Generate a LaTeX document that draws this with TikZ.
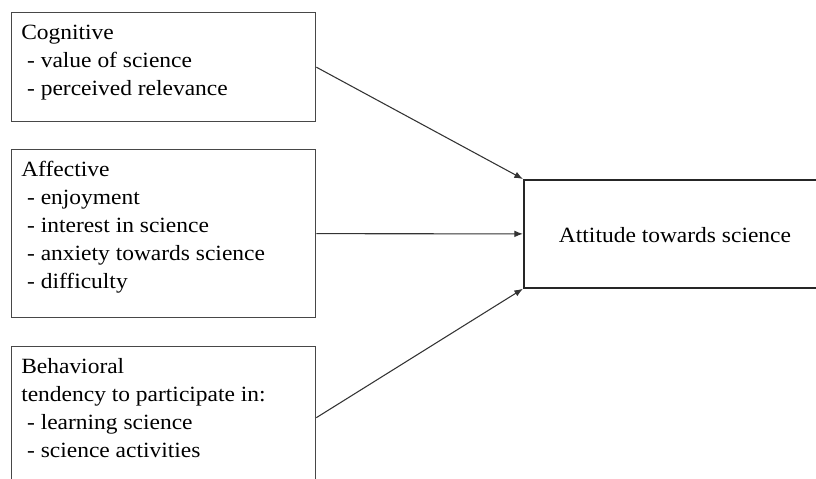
\documentclass[tikz,border=0pt]{standalone}
\usepackage{fontspec}
\setmainfont{Liberation Serif}[FakeStretch=1.08]
\usetikzlibrary{arrows.meta}
\begin{document}
\begin{tikzpicture}[x=0.75pt,y=-0.75pt,
  box/.style={draw=black!72,line width=1pt,rectangle,inner sep=0pt,anchor=north west},
  mainbox/.style={draw=black!85,line width=1.3pt,rectangle,inner sep=0pt,anchor=north west},
  txt/.style={inner sep=0pt,align=left,anchor=base west,font=\fontsize{16.3pt}{21pt}\selectfont},
  arr/.style={draw=black!80,line width=0.8pt,-{Latex[length=6.5pt,width=5pt]}}]
\useasboundingbox (0,0) rectangle (816,478);
\clip (0,0) rectangle (816,478);
\node[box,minimum width=304*0.75pt,minimum height=109*0.75pt] (cog) at (11,12) {};
\node[box,minimum width=304*0.75pt,minimum height=168*0.75pt] (aff) at (11,149) {};
\node[box,minimum width=304*0.75pt,minimum height=142*0.75pt] (beh) at (11,346) {};
\node[mainbox,minimum width=304*0.75pt,minimum height=108*0.75pt] (att) at (523,179) {};
\node[txt] (cogt) at (21,95) {Cognitive\\\hspace*{4.4pt}- value of science\\\hspace*{4.4pt}- perceived relevance};
\node[txt] (afft) at (21,288) {Affective\\\hspace*{4.4pt}- enjoyment\\\hspace*{4.4pt}- interest in science\\\hspace*{4.4pt}- anxiety towards science\\\hspace*{4.4pt}- difficulty};
\node[txt] (beht) at (21,457) {Behavioral\\tendency to participate in:\\\hspace*{4.4pt}- learning science\\\hspace*{4.4pt}- science activities};
\node[txt,anchor=base] (attt) at (675,242) {Attitude towards science};
\draw[arr] (cog.east) -- (att.north west);
\draw[arr] (aff.east) -- (att.west);
\draw[arr] (beh.east) -- (att.south west);
\end{tikzpicture}
\end{document}
